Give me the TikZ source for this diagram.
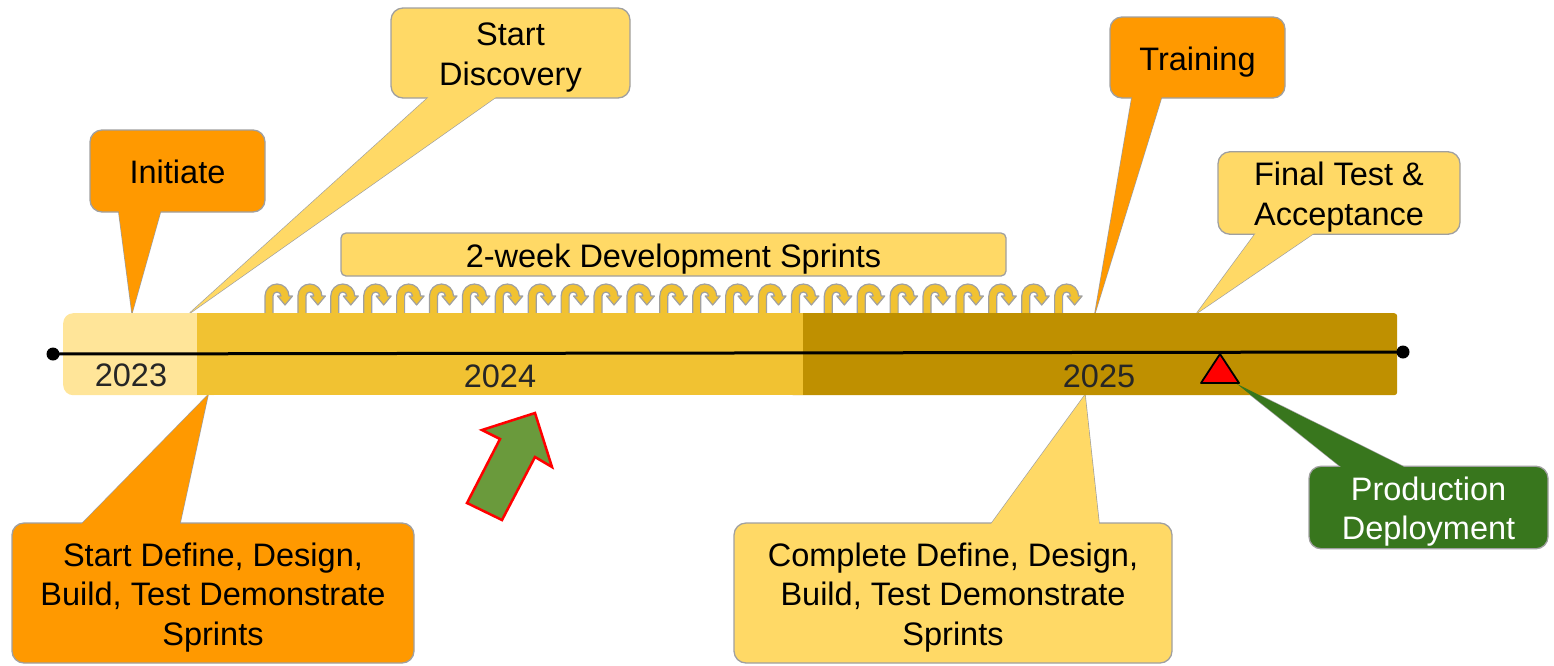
\documentclass[tikz,border=0pt]{standalone}
\usepackage{fontspec}
\setmainfont{Liberation Sans}
\usetikzlibrary{calc}

\definecolor{corange}{HTML}{FF9900}
\definecolor{cyellow}{HTML}{FFD966}
\definecolor{cpale}{HTML}{FFE599}
\definecolor{cgold}{HTML}{F1C232}
\definecolor{cdark}{HTML}{BF9000}
\definecolor{cgreen}{HTML}{38761D}
\definecolor{carrow}{HTML}{6A9A3C}
\definecolor{cedge}{HTML}{A0A0A0}

\pgfdeclarelayer{back}
\pgfsetlayers{back,main}

% strut giving every text line the same ascent and descent
\newcommand{\linestrut}{\rule[-9pt]{0pt}{43pt}}

\tikzset{
  bigtext/.style={font=\fontsize{32.5}{39.5}\selectfont},
  callbox/.style={bigtext, draw=cedge, line width=1.3pt, rounded corners=12pt,
    align=center, inner sep=0pt, text=black,
    execute at begin node=\linestrut, execute at end node=\linestrut},
  seg/.style={inner sep=0pt, anchor=north west, minimum height=82pt},
  dot/.style={circle, fill=black, inner sep=0pt, minimum size=13pt},
  loop/.style={fill=cgold, draw=cedge, line width=1.2pt, line join=round},
  year/.style={bigtext, inner sep=0pt, text=black!85},
}

% pointer of a callout: fill colour, base point A, base point B, tip
\newcommand{\calloutpointer}[4]{%
  \begin{pgfonlayer}{back}
    \filldraw[fill=#1, draw=cedge, line width=1.3pt, line join=round] #2 -- #4 -- #3 -- cycle;
  \end{pgfonlayer}
  \fill[#1] #2 -- #4 -- #3 -- cycle;
}

\begin{document}
\begin{tikzpicture}[x=1pt, y=-1pt]
\useasboundingbox (0,0) rectangle (1554,665);

% sprint loops sitting on the bar
\foreach \i in {0,...,24}{
  \pgfmathsetmacro{\xo}{265+32.9*\i}
  \filldraw[loop] (\xo,315) -- (\xo,296) arc(180:360:12) -- (\xo+27.5,296)
    -- (\xo+20,305) -- (\xo+12.5,296) -- (\xo+16,296) arc(0:-180:4)
    -- (\xo+8,315) -- cycle;
}

% timeline bar
\node[seg, fill=cpale, rounded corners=10pt, minimum width=160pt] (y23) at (63,313) {};
\node[seg, fill=cdark, rounded corners=3pt, minimum width=607pt] (y25) at (790,313) {};
\node[seg, fill=cgold, minimum width=606pt] (y24) at (197,313) {};

% axis line
\coordinate (a0) at (53,354);
\coordinate (a1) at (1403,352);
\draw[line width=3pt] (a0) -- (a1);
\node[dot] (d0) at (a0) {};
\node[dot] (d1) at (a1) {};

% year labels
\node[year] (t23) at (131,375) {2023};
\node[year] (t24) at (500,376) {2024};
\node[year] (t25) at (1099,376) {2025};

% sprint banner
\node[callbox, fill=cyellow, rounded corners=5pt, minimum width=665pt, minimum height=41pt]
  (sprints) at (673.5,254.5) {2-week Development Sprints};

% callouts above the bar
\coordinate (tipInit) at (132,313);
\node[callbox, fill=corange, minimum width=175pt, minimum height=82pt] (init) at (177.5,171) {Initiate};
\calloutpointer{corange}{($(init.south west)+(29,-4)$)}{($(init.south west)+(72,-4)$)}{(tipInit)}

\coordinate (tipDisc) at (190,313);
\node[callbox, fill=cyellow, minimum width=239pt, minimum height=90pt] (disc) at (510.5,53)
  {\linestrut Start\\Discovery};
\calloutpointer{cyellow}{($(disc.south west)+(41,-4)$)}{($(disc.south west)+(109,-4)$)}{(tipDisc)}

\coordinate (tipTrain) at (1095,313);
\node[callbox, fill=corange, minimum width=175pt, minimum height=81pt] (train) at (1197.5,57.5) {Training};
\calloutpointer{corange}{($(train.south west)+(23,-4)$)}{($(train.south west)+(53,-4)$)}{(tipTrain)}

\coordinate (tipFinal) at (1197,313);
\node[callbox, fill=cyellow, minimum width=242pt, minimum height=82pt] (final) at (1339,193)
  {\linestrut Final Test \&\\Acceptance};
\calloutpointer{cyellow}{($(final.south west)+(40,-4)$)}{($(final.south west)+(100,-4)$)}{(tipFinal)}

% callouts below the bar
\coordinate (tipSdef) at (208,395);
\node[callbox, fill=corange, minimum width=402pt, minimum height=140pt] (sdef) at (213,593)
  {\linestrut Start Define, Design,\\Build, Test Demonstrate\\Sprints};
\calloutpointer{corange}{($(sdef.north west)+(68,4)$)}{($(sdef.north west)+(168,4)$)}{(tipSdef)}

\coordinate (tipCdef) at (1085,395);
\node[callbox, fill=cyellow, minimum width=438pt, minimum height=140pt] (cdef) at (953,593)
  {\linestrut Complete Define, Design,\\Build, Test Demonstrate\\Sprints};
\calloutpointer{cyellow}{($(cdef.north west)+(256,4)$)}{($(cdef.north west)+(366,4)$)}{(tipCdef)}

\coordinate (tipProd) at (1237,384);
\node[callbox, fill=cgreen, text=white, minimum width=239pt, minimum height=81pt] (prod) at (1428.5,507.5)
  {\linestrut Production\\Deployment};
\calloutpointer{cgreen}{($(prod.north west)+(36,4)$)}{($(prod.north west)+(101,4)$)}{(tipProd)}

% deployment marker
\filldraw[fill=red, draw=black, line width=1.8pt, line join=round]
  (1220,354) -- (1239,383) -- (1201,383) -- cycle;

% green block arrow
\filldraw[fill=carrow, draw=red, line width=2.5pt, line join=miter]
  (535,413) -- (552,467) -- (535,457) -- (502,520) -- (467,503) -- (500,439) -- (482,430) -- cycle;

\end{tikzpicture}
\end{document}
